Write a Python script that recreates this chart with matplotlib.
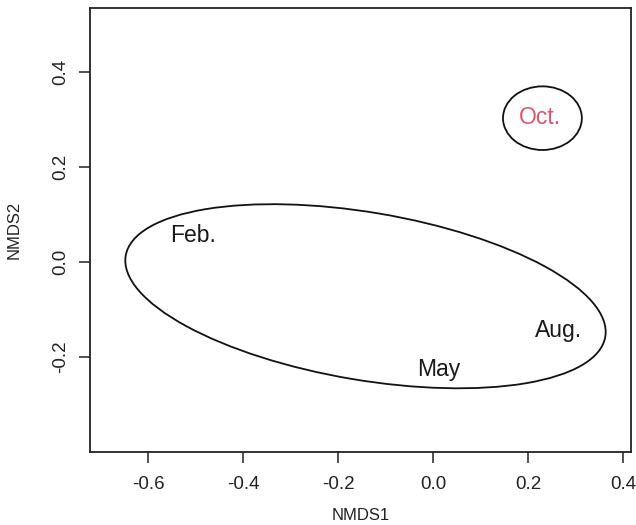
import matplotlib
matplotlib.use("Agg")
import matplotlib.pyplot as plt
from matplotlib.patches import Ellipse

plt.rcParams['font.family'] = ['Liberation Sans', 'DejaVu Sans']

# Sampling-month labels and their NMDS positions
months = ["Feb.", "May", "Aug.", "Oct."]
nmds1 = [-0.505, 0.012, 0.265, 0.225]
nmds2 = [0.055, -0.227, -0.145, 0.305]
label_colors = ["#1a1a1a", "#1a1a1a", "#1a1a1a", "#DF536B"]

# Group ellipses: centre x, centre y, width, height, angle (deg)
ell_cx = [-0.142, 0.2305]
ell_cy = [-0.072, 0.303]
ell_w = [1.024, 0.166]
ell_h = [0.353, 0.134]
ell_ang = [-9.6, 0.0]

xticks = [-0.6, -0.4, -0.2, 0.0, 0.2, 0.4]
yticks = [-0.2, 0.0, 0.2, 0.4]

fig = plt.figure(figsize=(6.36, 5.25), dpi=100)
ax = fig.add_axes([90/636, 1-452/525, 541/636, 444/525])
ax.set_xlim(-0.722, 0.417)
ax.set_ylim(-0.4, 0.535)

for cx, cy, w, h, a in zip(ell_cx, ell_cy, ell_w, ell_h, ell_ang):
    ax.add_patch(Ellipse((cx, cy), w, h, angle=a, fill=False,
                         edgecolor="#111111", linewidth=1.3))

for m, x, y, c in zip(months, nmds1, nmds2, label_colors):
    ax.text(x, y, m, ha="center", va="center", fontsize=16.5, color=c)

ax.set_xticks(xticks)
ax.set_xticklabels([f"{v:.1f}" for v in xticks])
ax.set_yticks(yticks)
ax.set_yticklabels([f"{v:.1f}" for v in yticks], rotation=90, va="center")
ax.tick_params(direction="out", length=8, width=1.1, labelsize=13.5,
               colors="#222222")
ax.tick_params(axis="x", pad=9)
ax.tick_params(axis="y", pad=7)
for s in ax.spines.values():
    s.set_linewidth(1.3)
    s.set_color("#222222")

ax.set_xlabel("NMDS1", fontsize=12, color="#222222", labelpad=11)
ax.set_ylabel("NMDS2", fontsize=12, color="#222222", labelpad=22)

fig.savefig("out.png", dpi=100)
